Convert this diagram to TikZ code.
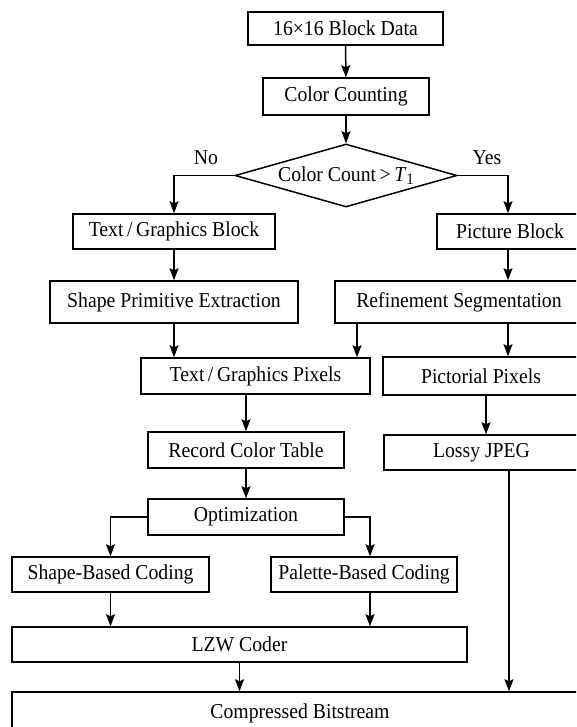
\documentclass[tikz,border=0pt]{standalone}
\usepackage{fontspec}
\setmainfont{Liberation Serif}[FakeStretch=0.93]
\usetikzlibrary{shapes.geometric,arrows.meta}

\tikzset{
  box/.style={draw, line width=1.5pt, inner sep=0pt, align=center,
              font=\fontsize{21.2}{25}\selectfont},
  decision/.style={diamond, draw, line width=1.5pt, inner sep=0pt,
              font=\fontsize{21.2}{25}\selectfont},
  flow/.style={line width=1.5pt, -{Stealth[length=12pt,width=9pt,inset=2pt]}},
  tag/.style={font=\fontsize{21.2}{25}\selectfont, inner sep=0pt}
}

\begin{document}
\begin{tikzpicture}[x=1pt,y=-1pt]
\useasboundingbox (0,0) rectangle (576,727);
\clip (0,0) rectangle (576,727);
\fill[white] (0,0) rectangle (576,727);

% top of the flow
\node[box, minimum width=195pt, minimum height=33pt] (data)  at (345.5,28.5) {16×16 Block Data};
\node[box, minimum width=166pt, minimum height=37pt] (count) at (346,96.5) {Color Counting};
\node[decision, minimum width=222pt, minimum height=63pt, aspect=3.52] (dec) at (346,175.5)
  {Color Count\,>\,\textit{T}\raisebox{-0.35ex}{\fontsize{16}{16}\selectfont 1}};
\node[tag] (no)  at (206,158) {No};
\node[tag] (yes) at (487,158) {Yes};

% text / graphics branch
\node[box, minimum width=202pt, minimum height=35pt] (tgb) at (174,231.5) {Text\,/\,Graphics Block};
\node[box, minimum width=248pt, minimum height=42pt] (spe) at (174,302) {Shape Primitive Extraction};
\node[box, minimum width=229pt, minimum height=36pt] (tgp) at (255.5,376) {Text\,/\,Graphics Pixels};
\node[box, minimum width=196pt, minimum height=36pt] (rct) at (246,450) {Record Color Table};
\node[box, minimum width=196pt, minimum height=36pt] (opt) at (246,517) {Optimization};
\node[box, minimum width=197pt, minimum height=35pt] (sbc) at (110.5,574.5) {Shape-Based Coding};
\node[box, minimum width=186pt, minimum height=35pt] (pbc) at (364,574.5) {Palette-Based Coding};
\node[box, minimum width=455pt, minimum height=35pt] (lzw) at (239.5,644.5) {LZW Coder};

% picture branch (boxes run past the right edge)
\node[box, minimum width=146pt, minimum height=35pt] (pb) at (510,231.5) {Picture Block};
\node[box, minimum width=248pt, minimum height=42pt] (rs) at (459,302) {Refinement Segmentation};
\node[box, minimum width=196pt, minimum height=38pt] (pp) at (481,376) {Pictorial Pixels};
\node[box, minimum width=195pt, minimum height=35pt] (lj) at (481.5,452.5) {Lossy JPEG};

% output
\node[box, minimum width=576pt, minimum height=42pt] (cb) at (300,713) {Compressed Bitstream};

% connectors
\draw[flow] (data) -- (count);
\draw[flow] (count) -- (dec);
\draw[flow] (dec.west) -| (tgb.north);
\draw[flow] (dec.east) -| ([xshift=-2pt]pb.north);
\draw[flow] (tgb) -- (spe);
\draw[flow] ([xshift=-2pt]pb.south) -- ([xshift=-2pt]pb.south |- rs.north);
\draw[flow] (spe.south) -- (spe.south |- tgp.north);
\draw[flow] ([xshift=-102pt]rs.south) -- ([xshift=-102pt]rs.south |- tgp.north);
\draw[flow] ([xshift=49pt]rs.south) -- ([xshift=49pt]rs.south |- pp.north);
\draw[flow] (rct.north |- tgp.south) -- (rct.north);
\draw[flow] ([xshift=5pt]pp.south) -- ([xshift=5pt]pp.south |- lj.north);
\draw[flow] (rct) -- (opt);
\draw[flow] ([xshift=27.5pt]lj.south) -- ([xshift=27.5pt]lj.south |- cb.north);
\draw[flow] (opt.west) -| (sbc.north);
\draw[flow] (opt.east) -| ([xshift=6pt]pbc.north);
\draw[flow] (sbc.south) -- (sbc.south |- lzw.north);
\draw[flow] ([xshift=6pt]pbc.south) -- ([xshift=6pt]pbc.south |- lzw.north);
\draw[flow] (lzw.south) -- (lzw.south |- cb.north);
\end{tikzpicture}
\end{document}
